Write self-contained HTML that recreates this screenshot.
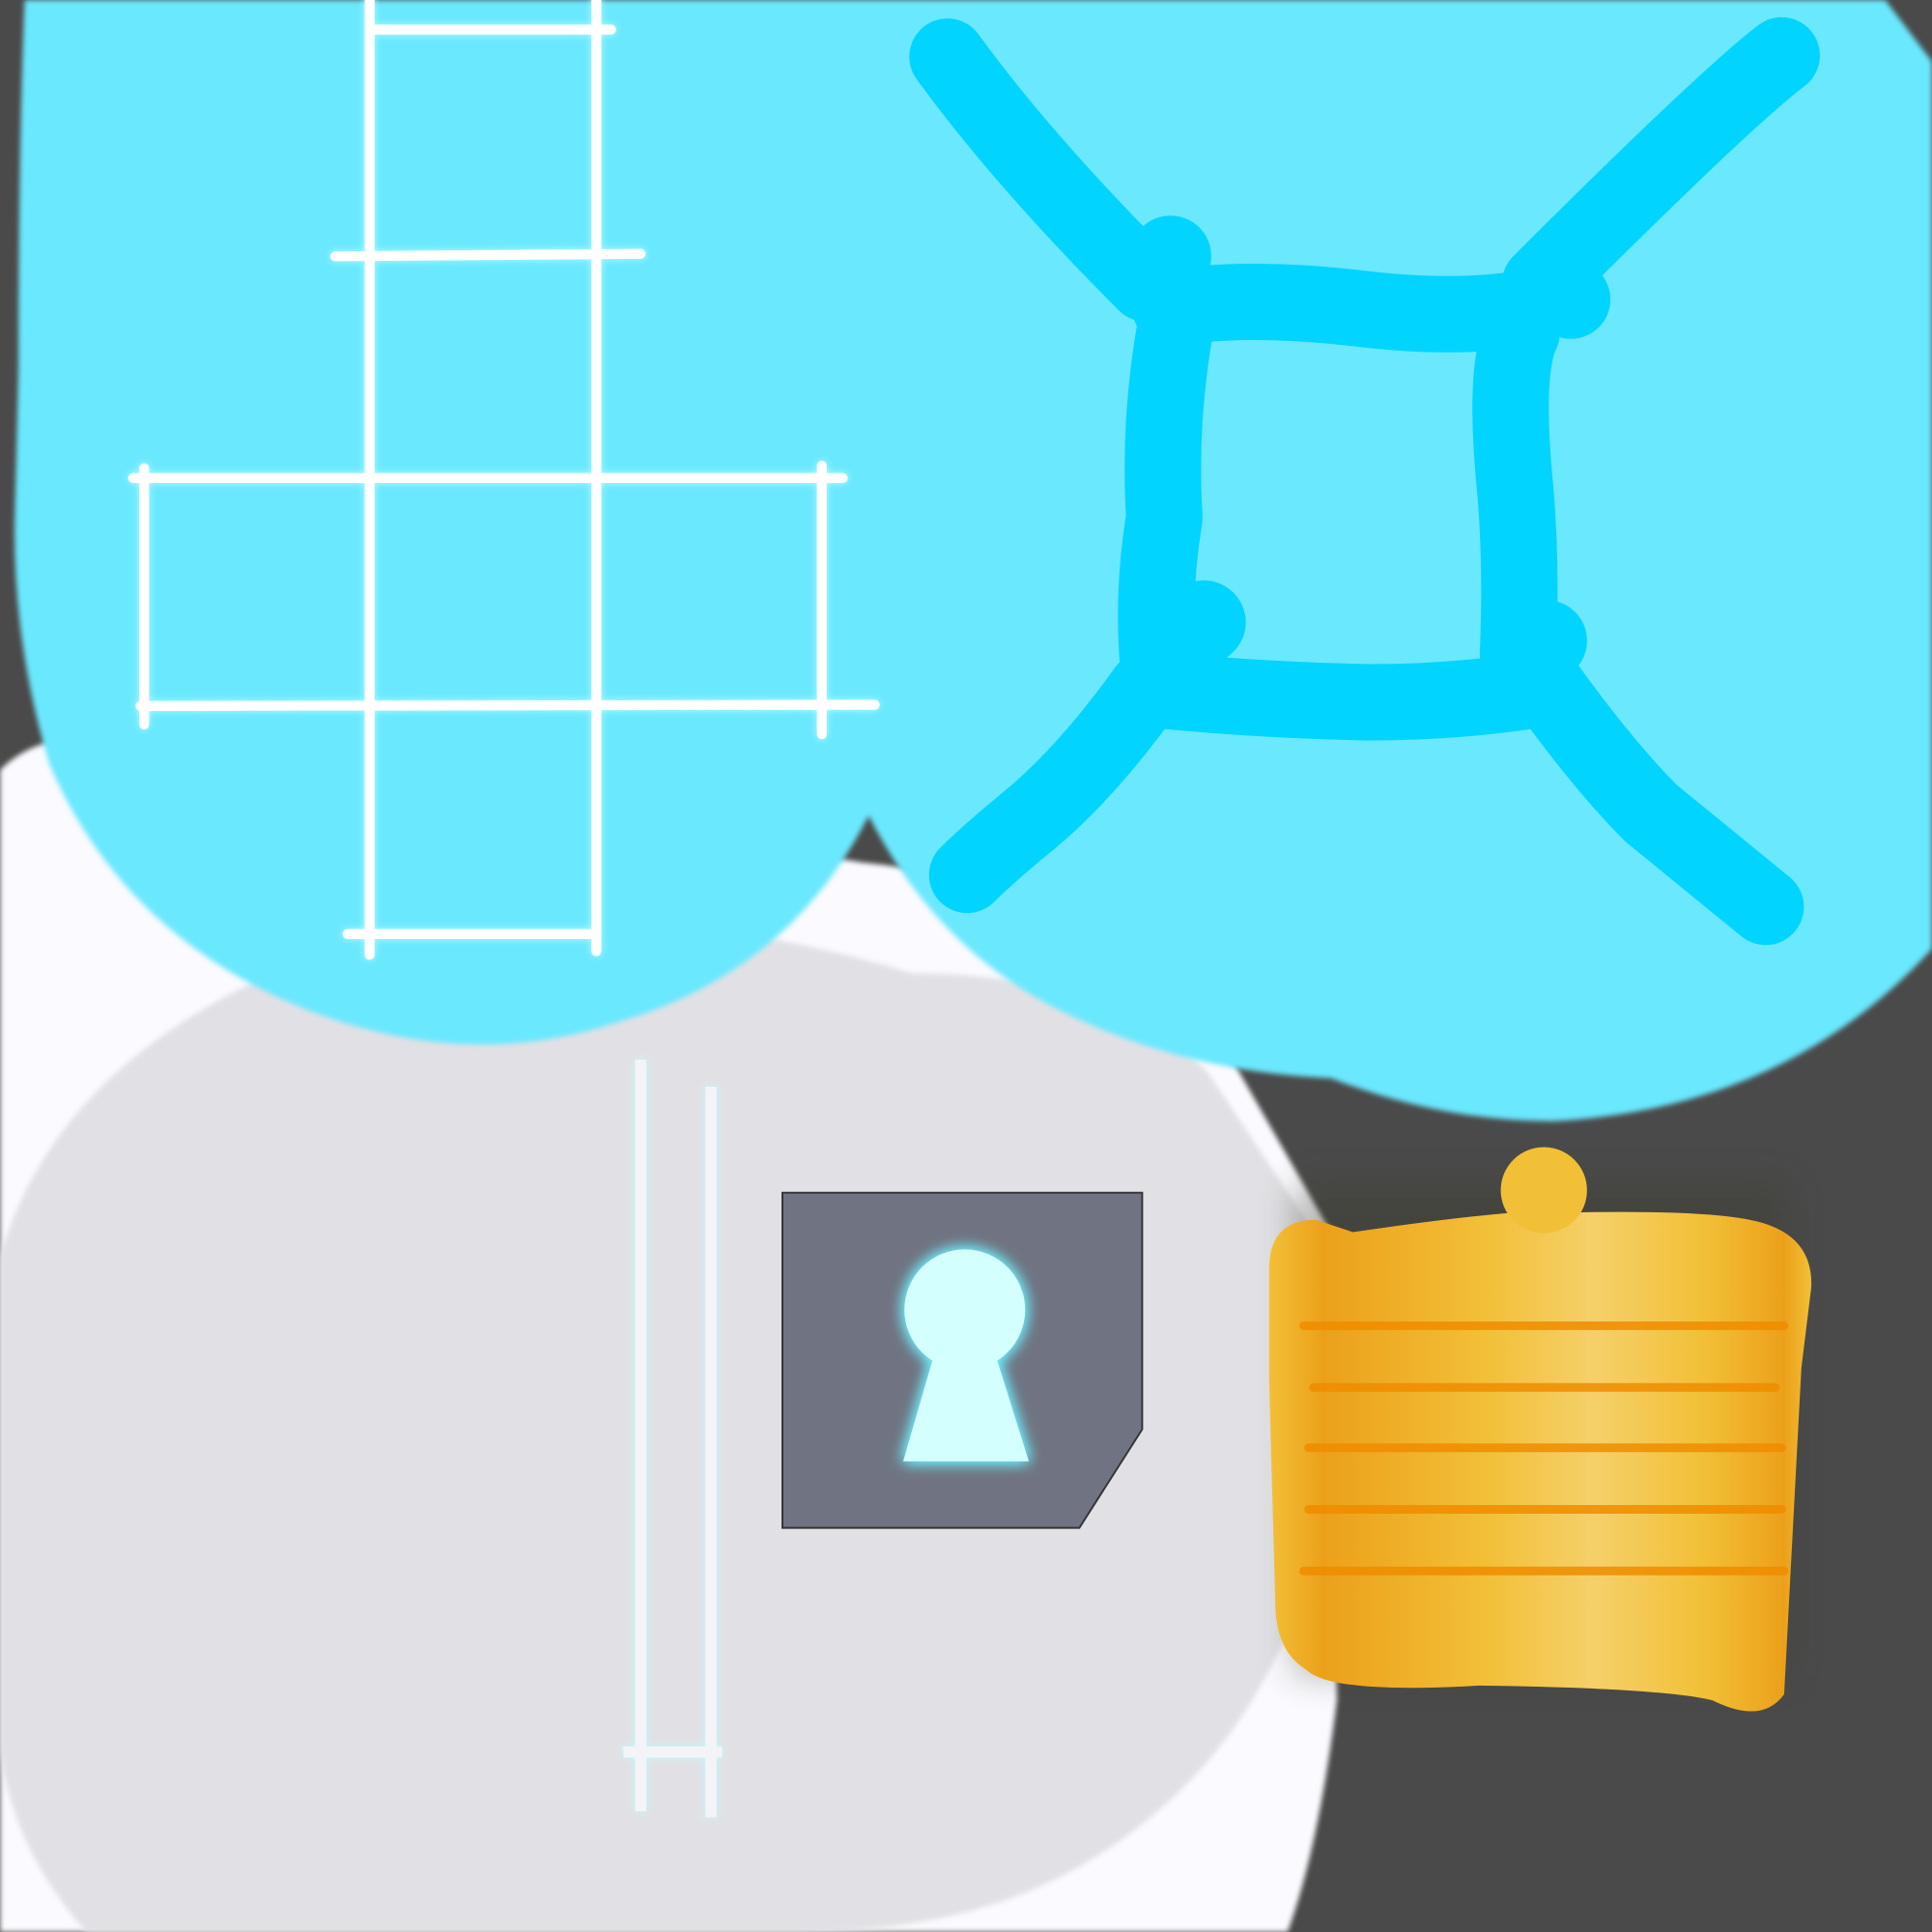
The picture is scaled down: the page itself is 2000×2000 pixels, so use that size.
<!DOCTYPE html>
<html><head><meta charset="utf-8"><style>
html,body{margin:0;padding:0;background:#4a4a4a;}
svg{display:block;}
</style></head><body>
<svg width="2000" height="2000" viewBox="0 0 1568 1568" xmlns="http://www.w3.org/2000/svg">
<defs>
<filter id="blur2"><feGaussianBlur stdDeviation="2"/></filter>
<filter id="glow" x="-20%" y="-20%" width="140%" height="140%"><feGaussianBlur stdDeviation="3" result="b"/><feFlood flood-color="#b8ffff"/><feComposite in2="b" operator="in" result="c"/><feMerge><feMergeNode in="c"/><feMergeNode in="SourceGraphic"/></feMerge></filter>
<filter id="glow2" x="-50%" y="-50%" width="200%" height="200%"><feGaussianBlur stdDeviation="6" result="b"/><feFlood flood-color="#6ef0ff"/><feComposite in2="b" operator="in" result="c"/><feMerge><feMergeNode in="c"/><feMergeNode in="c"/><feMergeNode in="SourceGraphic"/></feMerge></filter>
<filter id="shadow" x="-20%" y="-20%" width="140%" height="140%"><feGaussianBlur stdDeviation="14"/></filter>
<linearGradient id="gold" x1="0" x2="1" y1="0" y2="0">
<stop offset="0" stop-color="#f2c037"/><stop offset="0.1" stop-color="#eca01a"/><stop offset="0.4" stop-color="#f2c037"/><stop offset="0.6" stop-color="#f5d06a"/><stop offset="0.8" stop-color="#f2c037"/><stop offset="0.95" stop-color="#eca01a"/><stop offset="1" stop-color="#f2c037"/>
</linearGradient>
</defs>
<rect width="1568" height="1568" fill="#4a4a4a"/>
<path d="M0 625 Q30 595 80 600 L700 700 Q900 720 1000 860 L1080 1000 L1085 1380 Q1070 1500 1045 1568 L0 1568 Z" fill="#fafaff" filter="url(#blur2)"/>
<path d="M0 1020 Q40 880 200 800 Q350 730 560 750 Q680 770 740 790 Q900 790 980 870 L1060 990 L1065 1270 Q1020 1420 900 1500 Q800 1568 650 1568 L70 1568 Q10 1500 0 1420 Z" fill="#e1e1e5" filter="url(#blur2)"/>
<path d="M20 0 L1530 0 L1568 50 L1568 770 Q1450 900 1260 910 Q1170 910 1080 875 Q960 870 860 820 Q760 770 705 662 Q640 790 500 830 Q380 870 250 820 Q100 760 40 620 Q10 520 12 420 L15 300 Q15 120 20 0 Z" fill="#6ae8fe" filter="url(#blur2)"/>
<g stroke="#ffffff" stroke-width="8" fill="none" stroke-linecap="round" filter="url(#glow)">
<line x1="300" y1="0" x2="300" y2="775"/>
<line x1="484" y1="0" x2="484" y2="772"/>
<line x1="300" y1="24" x2="496" y2="24"/>
<line x1="272" y1="208" x2="520" y2="206"/>
<line x1="108" y1="388" x2="684" y2="388"/>
<line x1="114" y1="573" x2="710" y2="572"/>
<line x1="282" y1="758" x2="484" y2="758"/>
<line x1="117" y1="380" x2="117" y2="588"/>
<line x1="667" y1="378" x2="667" y2="596"/>
</g>
<g stroke="#00d4ff" stroke-width="62" fill="none" stroke-linecap="round" stroke-linejoin="round">
<path d="M769 46 Q830 130 930 230 L950 210"/>
<path d="M1446 45 Q1400 80 1250 230 L1275 243"/>
<path d="M950 250 Q1010 240 1100 250 Q1180 260 1240 250"/>
<path d="M955 260 Q940 340 945 420 Q935 480 940 540 L980 505"/>
<path d="M1235 270 Q1220 300 1230 400 Q1235 460 1232 530 L1255 520"/>
<path d="M940 560 Q1020 568 1110 570 Q1180 570 1245 560"/>
<path d="M930 560 Q880 630 830 670 Q800 695 785 710"/>
<path d="M1250 550 Q1300 620 1340 660 L1433 736"/>
</g>
<g fill="#00d4ff"><circle cx="950" cy="208" r="33"/><circle cx="1275" cy="243" r="32"/><circle cx="977" cy="505" r="34"/><circle cx="1255" cy="520" r="33"/></g>
<g stroke="#f4f4f8" stroke-width="9" fill="none" filter="url(#glow)">
<line x1="520" y1="860" x2="520" y2="1470"/>
<line x1="577" y1="882" x2="577" y2="1475"/>
<line x1="506" y1="1422" x2="586" y2="1422"/>
</g>
<polygon points="635,968 927,968 927,1160 876,1240 635,1240" fill="#707482" stroke="#333" stroke-width="1.5"/>
<g fill="#d4ffff" filter="url(#glow2)">
<circle cx="783" cy="1063" r="49"/>
<polygon points="758,1100 808,1100 835,1186 733,1186"/>
</g>
<rect x="1050" y="960" width="400" height="400" fill="#3a3a2a" filter="url(#shadow)" opacity="0.35"/>
<path d="M1030 1030 Q1030 990 1068 990 L1098 1000 Q1180 988 1230 984 L1253 966 L1280 984 Q1380 982 1420 990 Q1472 1000 1470 1045 L1462 1110 L1448 1375 Q1430 1400 1390 1380 Q1350 1370 1200 1368 Q1080 1375 1060 1355 Q1035 1340 1035 1300 L1030 1120 Z" fill="url(#gold)"/>
<circle cx="1253" cy="966" r="35" fill="#f2c037"/>
<g stroke="#f08c00" stroke-width="7" stroke-linecap="round" opacity="0.85">
<line x1="1058" y1="1076" x2="1448" y2="1076"/>
<line x1="1066" y1="1126" x2="1441" y2="1126"/>
<line x1="1062" y1="1175" x2="1446" y2="1175"/>
<line x1="1062" y1="1225" x2="1446" y2="1225"/>
<line x1="1058" y1="1275" x2="1448" y2="1275"/>
</g>
</svg>
</body></html>
